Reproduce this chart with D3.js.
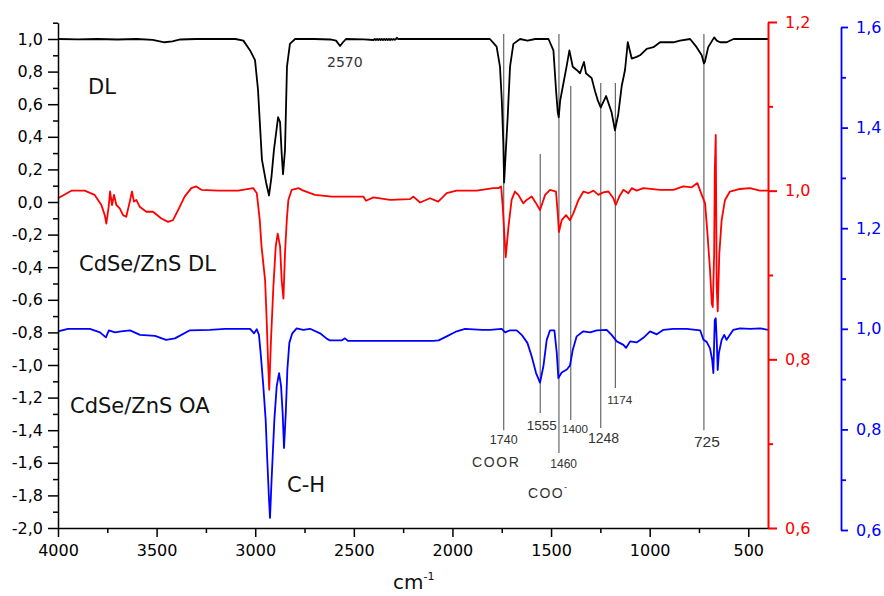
<!DOCTYPE html>
<html><head><meta charset="utf-8">
<script src="https://cdn.jsdelivr.net/npm/d3@7"></script>
<style>body{margin:0;background:#fff}svg{display:block;background:#fff}</style>
</head><body><svg id="c" width="884" height="596"></svg>
<script>
// ---------- DATA ----------
// DL (black, left axis)
const wnDL  = [4000,3900,3800,3700,3600,3520,3460,3420,3380,3300,3200,3100,3060,3026,3001,2986,2966,2945,2930,2918,2905,2884,2874,2866,2859,2849,2839,2824,2798,2700,2620,2590,2570,2555,2540,2450,2400,2394,2388,2382,2376,2370,2364,2358,2352,2346,2340,2334,2328,2322,2316,2310,2304,2298,2292,2286,2282,2276,2200,2000,1850,1810,1776,1759,1750,1742,1738,1730,1720,1708,1691,1657,1620,1580,1513,1488,1475,1466,1461,1454,1437,1420,1407,1390,1370,1353,1333,1323,1294,1277,1262,1248,1221,1193,1176,1159,1142,1125,1111,1091,1066,1049,1015,981,947,913,880,846,795,762,736,725,720,703,673,660,643,609,575,500,400];
const valDL = [1.0,0.998,1.0,0.997,1.0,0.995,0.98,0.985,0.997,1.0,1.0,1.0,0.99,0.93,0.87,0.69,0.26,0.12,0.04,0.15,0.32,0.52,0.49,0.30,0.17,0.32,0.83,0.97,1.0,1.0,0.997,0.99,0.957,0.98,1.0,0.998,0.994,1.0,0.994,1.0,0.994,1.0,0.994,1.0,0.994,1.0,0.994,1.0,0.994,1.0,0.994,1.0,0.995,1.0,0.995,1.0,1.008,1.0,1.0,1.0,1.0,1.0,0.953,0.83,0.63,0.36,0.12,0.30,0.52,0.83,0.97,1.0,0.99,1.0,1.0,0.93,0.69,0.55,0.52,0.62,0.73,0.84,0.93,0.83,0.81,0.79,0.86,0.79,0.76,0.68,0.62,0.58,0.65,0.55,0.44,0.54,0.71,0.81,0.98,0.88,0.89,0.90,0.94,0.95,0.98,0.98,0.98,0.99,1.0,0.95,0.90,0.85,0.86,0.95,1.01,0.99,0.98,0.98,1.0,1.0,1.0];

// CdSe/ZnS DL (red, red right axis)
const wnCdDL  = [4000,3932,3865,3814,3780,3763,3755,3743,3736,3726,3716,3704,3687,3670,3654,3636,3625,3615,3603,3586,3552,3518,3476,3442,3417,3391,3358,3324,3299,3273,3189,3087,3010,2992,2977,2968,2950,2942,2934,2929,2920,2908,2896,2886,2874,2866,2857,2849,2840,2832,2815,2781,2756,2697,2612,2452,2438,2401,2316,2215,2198,2164,2114,2072,2029,1979,1877,1793,1767,1753,1745,1737,1730,1716,1700,1683,1666,1641,1624,1598,1581,1556,1530,1505,1475,1466,1460,1446,1424,1404,1387,1361,1336,1311,1285,1260,1235,1209,1184,1172,1154,1133,1108,1091,1066,1032,947,880,829,787,758,736,719,707,694,685,680,673,670,665,660,655,647,635,618,593,542,491,441,400];
const valCdDL = [0.991,1.0,1.0,0.995,0.983,0.971,0.961,0.981,0.999,0.983,0.995,0.983,0.979,0.971,0.969,0.987,0.999,0.987,0.989,0.981,0.975,0.975,0.967,0.963,0.965,0.977,0.993,1.003,1.005,1.001,1.0,1.0,1.003,0.997,0.965,0.934,0.894,0.847,0.792,0.764,0.823,0.886,0.934,0.949,0.934,0.894,0.872,0.926,0.965,0.989,1.001,1.003,1.0,0.995,0.993,0.993,0.988,0.992,0.989,0.99,0.993,0.986,0.991,0.987,0.997,1.0,1.0,1.003,1.003,1.005,0.981,0.949,0.921,0.957,0.989,0.999,0.995,0.985,0.989,0.993,0.987,0.977,0.995,1.001,0.999,0.973,0.951,0.965,0.971,0.965,0.973,0.989,0.999,0.997,1.0,0.995,0.998,0.999,0.991,0.983,0.993,1.001,0.997,1.003,1.0,1.003,1.001,1.001,1.005,1.004,1.009,0.995,0.985,0.949,0.906,0.866,0.862,0.925,1.021,1.066,0.886,0.857,0.925,0.965,0.989,0.999,1.002,1.003,1.0,1.0];

// CdSe/ZnS OA (blue, blue right axis)
const wnOA  = [4000,3949,3838,3787,3757,3742,3711,3680,3635,3584,3508,3452,3407,3331,3229,3153,3026,3006,2992,2981,2971,2959,2947,2939,2930,2925,2917,2903,2891,2879,2869,2861,2854,2845,2837,2827,2812,2790,2756,2722,2671,2636,2621,2560,2545,2530,2300,2097,2070,2029,1978,1936,1850,1809,1750,1733,1708,1674,1649,1620,1598,1576,1556,1539,1522,1505,1483,1471,1463,1446,1420,1404,1390,1370,1336,1302,1268,1218,1193,1167,1133,1120,1099,1066,1032,998,964,930,880,812,744,727,711,694,683,677,670,665,660,655,649,635,622,610,593,576,542,490,440,400];
const valOA = [0.995,1.0,1.0,0.993,0.983,0.997,0.993,0.995,0.997,0.988,0.986,0.978,0.981,0.997,0.998,1.0,1.0,0.991,0.999,0.988,0.945,0.886,0.819,0.74,0.66,0.624,0.70,0.819,0.886,0.912,0.886,0.833,0.763,0.833,0.919,0.972,0.991,1.001,0.998,1.0,0.991,0.98,0.977,0.977,0.981,0.976,0.976,0.976,0.977,0.985,0.995,1.0,0.998,0.998,1.0,0.993,0.997,0.997,0.988,0.972,0.945,0.912,0.893,0.925,0.978,0.997,0.997,0.952,0.902,0.913,0.919,0.927,0.958,0.985,0.995,0.993,0.997,0.998,0.988,0.975,0.968,0.962,0.975,0.973,0.982,0.995,0.989,0.998,1.0,1.0,0.997,0.978,0.974,0.961,0.938,0.912,1.017,1.021,0.978,0.918,0.952,0.978,0.988,0.978,0.988,0.998,1.001,1.0,1.001,0.998];

// Tick values
const xMajor = [4000,3500,3000,2500,2000,1500,1000,500];
const xMinor = [3750,3250,2750,2250,1750,1250,750];
const yLeftMajor = [-2.0,-1.8,-1.6,-1.4,-1.2,-1.0,-0.8,-0.6,-0.4,-0.2,0.0,0.2,0.4,0.6,0.8,1.0];
const yLeftMinor = [-1.9,-1.7,-1.5,-1.3,-1.1,-0.9,-0.7,-0.5,-0.3,-0.1,0.1,0.3,0.5,0.7,0.9,1.1];
const yRedMajor = [0.6,0.8,1.0,1.2];
const yRedMinor = [0.7,0.9,1.1];
const yBlueMajor = [0.6,0.8,1.0,1.2,1.4,1.6];
const yBlueMinor = [0.7,0.9,1.1,1.3,1.5];

// Peak annotations (wavenumber, line top / bottom in left-axis units)
const annotWn     = [1740,1555,1460,1400,1248,1174,725];
const annotLabel  = ["1740","1555","1460","1400","1248","1174","725"];
const annotTop    = [1.03,0.294,1.03,0.712,0.730,0.730,1.03];
const annotBottom = [-1.40,-1.294,-1.54,-1.337,-1.386,-1.141,-1.40];

// ---------- DRAW ----------
const svg = d3.select("#c");
const x  = d3.scaleLinear().domain([4000,400]).range([58,768]);
const yL = d3.scaleLinear().domain([-2.0,1.1]).range([528,22.7]);
const yR = d3.scaleLinear().domain([0.6,1.2]).range([528,22]);
const yB = d3.scaleLinear().domain([0.6,1.6]).range([530,27]);

const fmt = v => d3.format(".1f")(v).replace("\u2212","-").replace(".",",");
const TF = "DejaVu Sans, Verdana, sans-serif";

function styleAxis(g, color, w){
  g.select(".domain").attr("stroke",color).attr("stroke-width",w);
  g.selectAll(".tick line").attr("stroke",color).attr("stroke-width",w);
  g.selectAll(".tick text").attr("fill",color).attr("font-family",TF).attr("font-size",16);
}

// annotation lines (behind curves)
const annotLayout = [
  {dx:0, dy:14, fs:12.5},{dx:1.5, dy:17, fs:13.5},{dx:4.7, dy:15, fs:12},
  {dx:4.3, dy:13, fs:11.7},{dx:2.8, dy:15, fs:14},{dx:4.4, dy:16, fs:11.7},{dx:3, dy:16.7, fs:15.5}
];
const ag = svg.append("g");
annotWn.forEach((w,i)=>{
  ag.append("line").attr("x1",x(w)).attr("x2",x(w)).attr("y1",yL(annotTop[i])).attr("y2",yL(annotBottom[i]))
    .attr("stroke","#5a5a5a").attr("stroke-width",1.1);
  ag.append("text").attr("x",x(w)+annotLayout[i].dx).attr("y",yL(annotBottom[i])+annotLayout[i].dy)
    .attr("text-anchor","middle").attr("font-family","Liberation Sans, Arial, sans-serif")
    .attr("font-size",annotLayout[i].fs).attr("fill","#333").text(annotLabel[i]);
});

// curves
function series(wn, val, ys, color){
  const pts = wn.map((w,i)=>[w,val[i]]);
  svg.append("path").datum(pts)
    .attr("d", d3.line().x(d=>x(d[0])).y(d=>ys(d[1])))
    .attr("fill","none").attr("stroke",color).attr("stroke-width",1.8)
    .attr("stroke-linejoin","round");
}
series(wnOA, valOA, yB, "#0000ff");
series(wnCdDL, valCdDL, yR, "#ff0000");
series(wnDL, valDL, yL, "#000000");

// bottom axis
const gx = svg.append("g").attr("transform","translate(0,528)")
  .call(d3.axisBottom(x).tickValues(xMajor).tickFormat(d3.format("d")).tickSize(9).tickSizeOuter(0).tickPadding(8));
styleAxis(gx,"#000",1.5);
const gx2 = svg.append("g").attr("transform","translate(0,528)")
  .call(d3.axisBottom(x).tickValues(xMinor).tickFormat("").tickSize(5).tickSizeOuter(0));
gx2.select(".domain").remove(); gx2.selectAll(".tick line").attr("stroke","#000").attr("stroke-width",1.5);

// left axis
const gl = svg.append("g").attr("transform","translate(58,0)")
  .call(d3.axisLeft(yL).tickValues(yLeftMajor).tickFormat(fmt).tickSize(10).tickSizeOuter(0).tickPadding(5));
styleAxis(gl,"#000",1.5);
const gl2 = svg.append("g").attr("transform","translate(58,0)")
  .call(d3.axisLeft(yL).tickValues(yLeftMinor).tickFormat("").tickSize(5).tickSizeOuter(0));
gl2.select(".domain").remove(); gl2.selectAll(".tick line").attr("stroke","#000").attr("stroke-width",1.5);

// red axis
const gr = svg.append("g").attr("transform","translate(768,0)")
  .call(d3.axisRight(yR).tickValues(yRedMajor).tickFormat(fmt).tickSize(9).tickSizeOuter(0).tickPadding(8));
styleAxis(gr,"#ff0000",2);
const gr2 = svg.append("g").attr("transform","translate(768,0)")
  .call(d3.axisRight(yR).tickValues(yRedMinor).tickFormat("").tickSize(5).tickSizeOuter(0));
gr2.select(".domain").remove(); gr2.selectAll(".tick line").attr("stroke","#ff0000").attr("stroke-width",2);

// blue axis
const gb = svg.append("g").attr("transform","translate(841,0)")
  .call(d3.axisRight(yB).tickValues(yBlueMajor).tickFormat(fmt).tickSize(7).tickSizeOuter(0).tickPadding(8));
styleAxis(gb,"#0000ff",1.8);
const gb2 = svg.append("g").attr("transform","translate(841,0)")
  .call(d3.axisRight(yB).tickValues(yBlueMinor).tickFormat("").tickSize(5).tickSizeOuter(0));
gb2.select(".domain").remove(); gb2.selectAll(".tick line").attr("stroke","#0000ff").attr("stroke-width",1.8);

// text labels
function label(t, px, py, fs, opts={}){
  const el = svg.append("text").attr("x",px).attr("y",py).attr("font-family",opts.ff||TF)
    .attr("font-size",fs).attr("fill",opts.fill||"#111").text(t);
  if(opts.ls) el.attr("letter-spacing",opts.ls);
  if(opts.anchor) el.attr("text-anchor",opts.anchor);
  return el;
}
label("DL", 88, 94, 21);
label("CdSe/ZnS DL", 79, 271, 21);
label("CdSe/ZnS OA", 70, 413, 21);
label("C-H", 287, 492, 21);
label("2570", 327, 67, 14, {fill:"#333"});
label("COOR", 472, 467, 14, {fill:"#333", ff:"Liberation Sans, Arial, sans-serif", ls:1.6});
const coo = label("COO", 528, 498, 14, {fill:"#333", ff:"Liberation Sans, Arial, sans-serif", ls:1.4});
coo.append("tspan").attr("font-size",9).attr("dy",-8).attr("dx",0).text("-");
// x-axis title
const ct = label("cm", 393, 589, 20, {fill:"#111"});
ct.append("tspan").attr("font-size",11).attr("dy",-9).text("-1");
</script></body></html>
